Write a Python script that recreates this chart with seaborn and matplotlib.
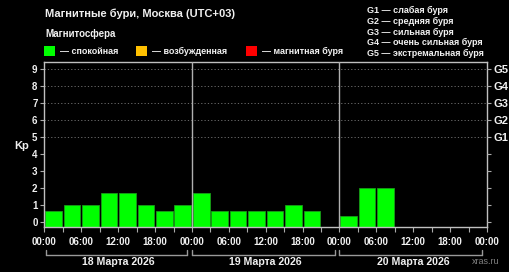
import matplotlib
matplotlib.use("Agg")
import matplotlib.pyplot as plt
import matplotlib.transforms as mtransforms
from matplotlib.patches import Rectangle
from matplotlib.lines import Line2D
import numpy as np
import pandas as pd
import seaborn as sns

# ---------------- data ----------------
slot_labels = [f"{d} {h:02d}:00" for d in ["18", "19", "20"] for h in range(0, 24, 3)]
kp_day1 = [0.67, 1.0, 1.0, 1.67, 1.67, 1.0, 0.67, 1.0]
kp_day2 = [1.67, 0.67, 0.67, 0.67, 0.67, 1.0, 0.67, np.nan]
kp_day3 = [0.33, 2.0, 2.0, np.nan, np.nan, np.nan, np.nan, np.nan]
kp_values = kp_day1 + kp_day2 + kp_day3
day_labels = ["18 Марта 2026", "19 Марта 2026", "20 Марта 2026"]
x_tick_labels = ["00:00", "06:00", "12:00", "18:00"] * 3 + ["00:00"]
y_ticks = list(range(10))
g_levels = [5, 6, 7, 8, 9]
g_labels = ["G1", "G2", "G3", "G4", "G5"]
g_legend = ["G1 — слабая буря", "G2 — средняя буря", "G3 — сильная буря",
            "G4 — очень сильная буря", "G5 — экстремальная буря"]
state_labels = ["— спокойная", "— возбужденная", "— магнитная буря"]
state_colors = ["#00ff00", "#ffc000", "#ff0000"]

df = pd.DataFrame({"slot": slot_labels, "kp": kp_values})

# ---------------- style ----------------
sns.set_theme(style="dark")
plt.rcParams["font.family"] = ["Liberation Sans", "DejaVu Sans"]
plt.rcParams["font.weight"] = "bold"

W, H = 510, 272
fig = plt.figure(figsize=(W / 100, H / 100), dpi=100, facecolor="black")
ax_l, ax_r, ax_t, ax_b = 44.5, 487, 62, 227
ax = fig.add_axes([ax_l / W, 1 - ax_b / H, (ax_r - ax_l) / W, (ax_b - ax_t) / H])
ax.set_facecolor("black")

ymin, ymax = -0.3, 9.4
sns.barplot(data=df, x="slot", y="kp", order=slot_labels, color="#00ff00",
            saturation=1, width=0.9, edgecolor="#1a9a1a", linewidth=0.6,
            errorbar=None, ax=ax)
# bars start at the bottom of the plot area
for p in ax.patches:
    h = p.get_height()
    if np.isfinite(h):
        p.set_y(ymin)
        p.set_height(h - ymin)

ax.set_ylim(ymin, ymax)
ax.set_xlim(-0.5, len(slot_labels) - 0.5)

# grid lines at G levels
for lvl in g_levels:
    ax.axhline(lvl, color="#777777", lw=0.6, ls=(0, (1.5, 2.5)), zorder=0)
# day separators
for d in (1, 2):
    ax.axvline(d * 8 - 0.5, color="#b0b0b0", lw=1.0, zorder=3)

# axes / ticks
major = np.arange(-0.5, len(slot_labels), 2)
ax.set_xticks(major)
ax.set_xticklabels(x_tick_labels, color="#f0f0f0", fontsize=7, fontweight="bold")
ax.set_xticks(np.arange(-0.5, len(slot_labels), 1), minor=True)
ax.tick_params(axis="x", which="both", length=3.5, width=0.8, color="#aaaaaa",
               pad=4, bottom=True)
ax.set_yticks(y_ticks)
ax.set_yticklabels([str(v) for v in y_ticks], color="#f0f0f0", fontsize=7,
                   fontweight="bold")
ax.tick_params(axis="y", length=3, width=0.8, color="#aaaaaa", pad=2, left=True)
ax.set_xlabel("")
ax.set_ylabel("")
ax.grid(False)
for s in ax.spines.values():
    s.set_visible(True)
    s.set_color("#c0c0c0")
    s.set_linewidth(1.0)

ax2 = ax.twinx()
ax2.set_ylim(ymin, ymax)
ax2.set_yticks(y_ticks)
ax2.set_yticklabels(["" if v < 5 else g_labels[v - 5] for v in y_ticks],
                    color="#f0f0f0", fontsize=8, fontweight="bold")
ax2.tick_params(axis="y", length=3, width=0.8, color="#aaaaaa", pad=2, right=True)
ax2.grid(False)
for s in ax2.spines.values():
    s.set_visible(False)

# Kp label
fig.text(22 / W, 1 - 146 / H, "Kp", color="#f0f0f0", fontsize=8,
         fontweight="bold", ha="center", va="center")

# day brackets and labels
blend = mtransforms.blended_transform_factory(ax.transData, fig.transFigure)
y_line = 1 - 254.5 / H
y_tick = 1 - 250 / H
for i, lab in enumerate(day_labels):
    x0 = i * 8 - 0.5 + (0.07 if i == 0 else 0)
    x1 = i * 8 + 7.5 - 0.25
    fig.add_artist(Line2D([x0, x1], [y_line, y_line], transform=blend,
                          color="#999999", lw=1.0))
    for xx in (x0, x1):
        fig.add_artist(Line2D([xx, xx], [y_line, y_tick], transform=blend,
                              color="#999999", lw=1.0))
    fig.text(i * 8 + 3.5, 1 - 262 / H, lab, transform=blend, color="#f0f0f0",
             fontsize=7.6, fontweight="bold", ha="center", va="center")

# titles
fig.text(45 / W, 1 - 14 / H, "Магнитные бури, Москва (UTC+03)", color="#f0f0f0",
         fontsize=8, fontweight="bold", ha="left", va="center")
fig.text(45 / W, 1 - 34 / H, "Магнитосфера", color="#f0f0f0", fontsize=7,
         fontweight="bold", ha="left", va="center")

# state legend
sq_x = [44, 136, 246]
tx_x = [60, 152, 262]
for sx, tx, lab, col in zip(sq_x, tx_x, state_labels, state_colors):
    fig.add_artist(Rectangle((sx / W, 1 - 56 / H), 11 / W, 10 / H,
                             transform=fig.transFigure, facecolor=col,
                             edgecolor="none"))
    fig.text(tx / W, 1 - 51 / H, lab, color="#f0f0f0", fontsize=6.5,
             fontweight="bold", ha="left", va="center")

# G legend
for i, lab in enumerate(g_legend):
    fig.text(367 / W, 1 - (10.7 + i * 10.7) / H, lab, color="#f0f0f0",
             fontsize=6.5, fontweight="bold", ha="left", va="center")

fig.text(500 / W, 1 - 262 / H, "xras.ru", color="#808080", fontsize=6.5,
         fontweight="normal", ha="right", va="center")

fig.savefig("out.png", dpi=100, facecolor="black")
